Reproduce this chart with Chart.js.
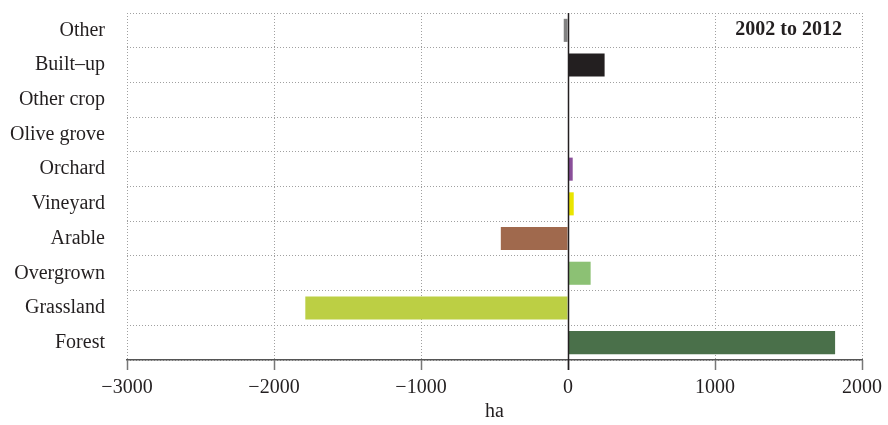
<!DOCTYPE html>
<html>
<head>
<meta charset="utf-8">
<script src="https://cdn.jsdelivr.net/npm/chart.js@4"></script>
<style>
  html, body { margin: 0; padding: 0; background: #fff; }
  #wrap { width: 888px; height: 425px; }
</style>
</head>
<body>
<div id="wrap"><canvas id="myChart" width="888" height="425"></canvas></div>
<script>
// land use change, ha
let categories = ['Other', 'Built\u2013up', 'Other crop', 'Olive grove', 'Orchard',
                  'Vineyard', 'Arable', 'Overgrown', 'Grassland', 'Forest'];
let changeHa = [-29, 249, 0, 0, 32, 39, -457, 154, -1787, 1817];
let barColors = ['#828282', '#231f20', '#b0b0b0', '#8c8c2c', '#8a4f9a',
                 '#eae500', '#a0694d', '#8cc174', '#bccf44', '#4a704a'];
let xTicks = [-3000, -2000, -1000, 0, 1000, 2000];
let periodLabel = '2002 to 2012';

const serif = "'Liberation Serif', 'DejaVu Serif', serif";
const gridGray = '#a0a0a0';

// zero line, x tick marks and the period label
const extras = {
    id: 'extras',
    afterDatasetsDraw(chart) {
        const {ctx, chartArea, scales} = chart;
        const x = scales.x;
        ctx.save();
        // tick marks below the axis
        ctx.strokeStyle = '#777';
        ctx.lineWidth = 1.5;
        xTicks.forEach(v => {
            const px = Math.round(x.getPixelForValue(v)) + 0.5;
            ctx.beginPath();
            ctx.moveTo(px, chartArea.bottom);
            ctx.lineTo(px, chartArea.bottom + 10);
            ctx.stroke();
        });
        // zero line
        const zx = Math.round(x.getPixelForValue(0)) + 0.5;
        ctx.strokeStyle = '#231f20';
        ctx.lineWidth = 1.5;
        ctx.beginPath();
        ctx.moveTo(zx, chartArea.top);
        ctx.lineTo(zx, chartArea.bottom + 10);
        ctx.stroke();
        // period label
        ctx.fillStyle = '#231f20';
        ctx.font = 'bold 20px ' + serif;
        ctx.textAlign = 'right';
        ctx.textBaseline = 'middle';
        ctx.fillText(periodLabel, chartArea.right - 20, chartArea.top + 17);
        ctx.restore();
    }
};

var ctx = document.getElementById('myChart').getContext('2d');
var chart = new Chart(ctx, {
    type: 'bar',
    data: {
        labels: categories,
        datasets: [{
            data: changeHa,
            backgroundColor: barColors,
            borderWidth: 0,
            categoryPercentage: 1,
            barPercentage: 0.665
        }]
    },
    options: {
        indexAxis: 'y',
        responsive: false,
        animation: false,
        layout: { padding: { top: 13, right: 24, left: 0, bottom: 1 } },
        plugins: {
            legend: { display: false },
            tooltip: { enabled: false }
        },
        scales: {
            x: {
                min: -3000,
                max: 2000,
                afterBuildTicks: s => { s.ticks = xTicks.map(v => ({value: v})); },
                ticks: {
                    color: '#231f20',
                    font: { family: serif, size: 20 },
                    padding: 6,
                    maxRotation: 0,
                    callback: v => v < 0 ? '\u2212' + Math.abs(v) : String(v)
                },
                grid: {
                    color: gridGray,
                    lineWidth: 1,
                    drawTicks: true,
                    tickLength: 10,
                    tickColor: 'rgba(0,0,0,0)'
                },
                border: { display: true, color: '#555', width: 1.5, dash: [1, 2] },
                title: {
                    display: true,
                    text: 'ha',
                    color: '#231f20',
                    font: { family: serif, size: 20 },
                    padding: { top: -6, bottom: 0 }
                }
            },
            y: {
                afterFit: s => { s.width = 127; s.paddingTop = 0; s.paddingBottom = 0; },
                ticks: {
                    color: '#231f20',
                    font: { family: serif, size: 20 },
                    padding: 22
                },
                grid: {
                    color: gridGray,
                    lineWidth: 1,
                    offset: true,
                    drawTicks: false
                },
                border: { display: false, dash: [1, 2] }
            }
        }
    },
    plugins: [extras]
});
</script>
</body>
</html>
